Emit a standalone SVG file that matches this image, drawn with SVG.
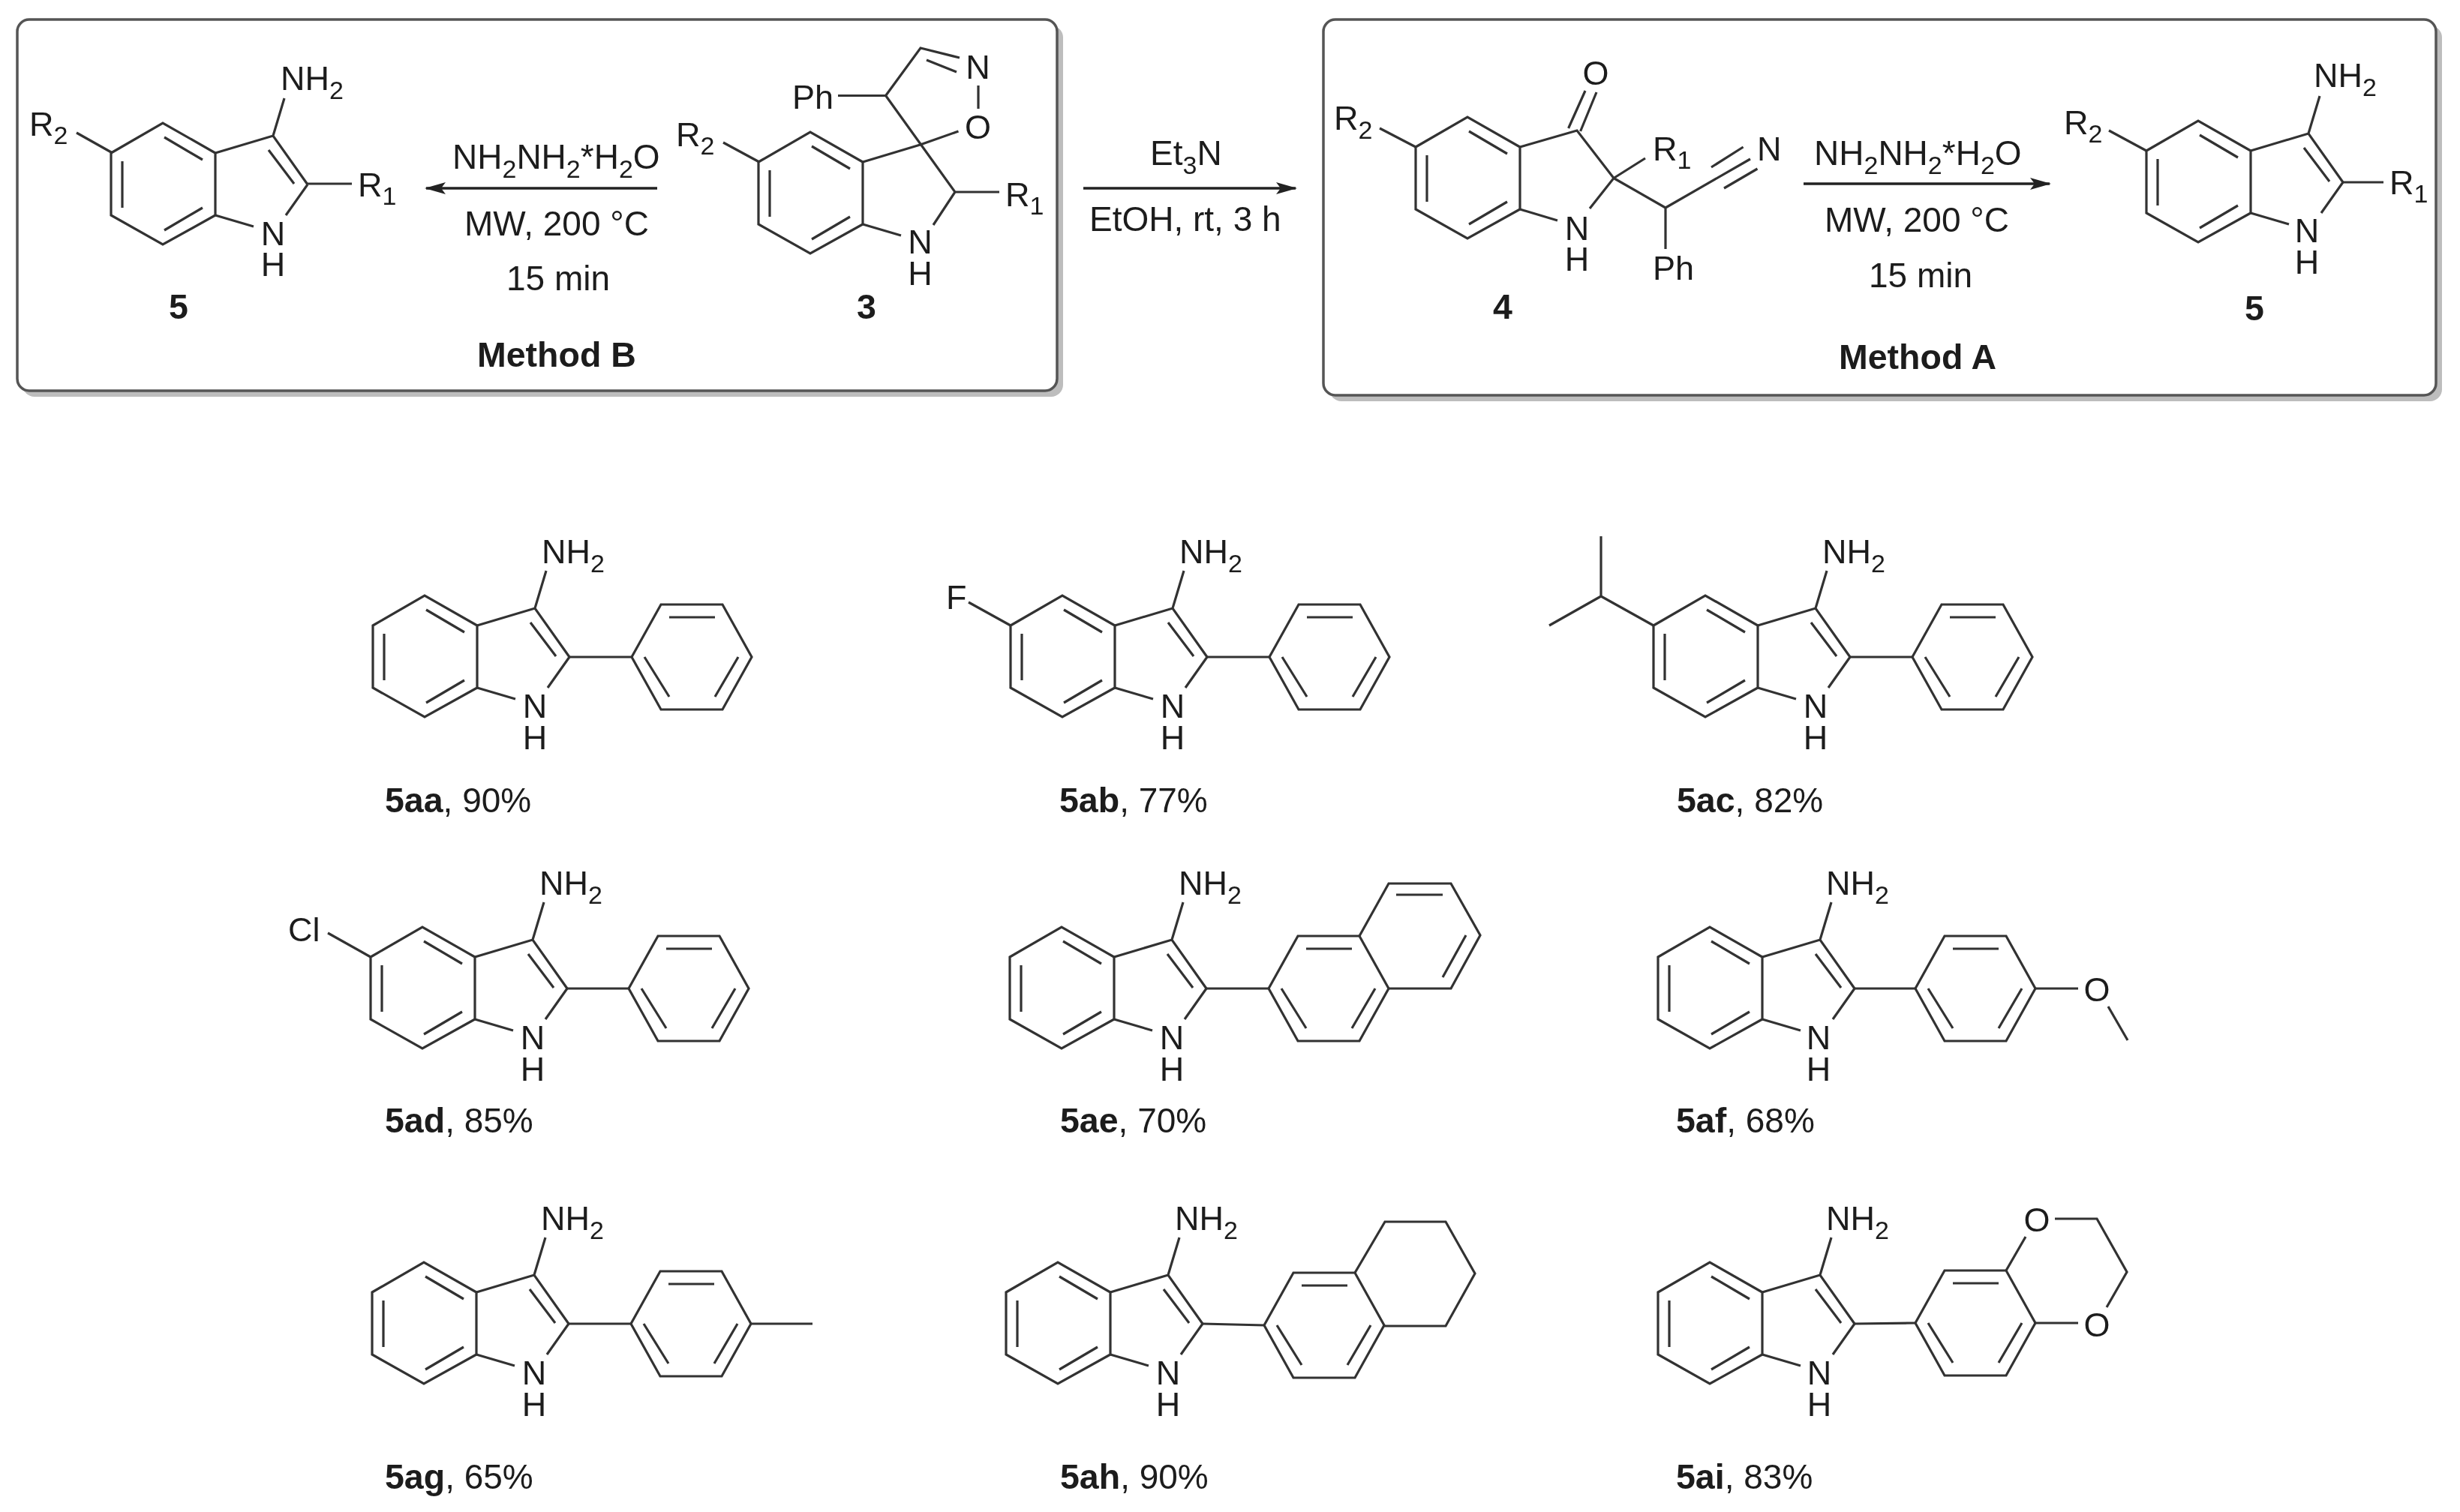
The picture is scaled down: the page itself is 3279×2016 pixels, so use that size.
<svg xmlns="http://www.w3.org/2000/svg" width="3279" height="2016" viewBox="0 0 3279 2016">
<style>
text{font-family:"Liberation Sans",Arial,sans-serif;font-size:45px;fill:#1c1c1c}
.s{font-size:34px}
.m{text-anchor:middle}
.r{font-size:46px}
.b{font-weight:bold;font-size:46.5px}
.c{font-size:46px}
.bd{fill:none;stroke:#333;stroke-width:3.2;stroke-linejoin:miter;stroke-linecap:butt}
.box{fill:#fff;stroke:#555;stroke-width:3.5}
.sh{fill:#bdbdbd}
.arr{stroke:#222;stroke-width:3.5;fill:none;marker-end:url(#head)}
</style>
<defs>
<filter id="soft" x="0" y="0" width="100%" height="100%" filterUnits="objectBoundingBox"><feGaussianBlur stdDeviation="0.7"/></filter>
<marker id="head" markerUnits="userSpaceOnUse" viewBox="-28 -9 32 18" refX="0" refY="0" markerWidth="32" markerHeight="18" orient="auto"><path d="M2 0L-26 -8L-20 0L-26 8Z" fill="#222"/></marker>
<path id="benzo" class="bd" d="M-139 0L-70 -40L0 0V83L-70 122L-139 83ZM-68 -21L-17 9M-124 11V73M-68 103L-17 73"/>
<path id="pyrrole" class="bd" d="M0 0L77 -23L123 42M71 -4L105 41M0 83L51 98M123 42L94 83M77 -23L92 -73"/>
<path id="ph" class="bd" d="M0 0L39 -70H121L160 0L121 70H39ZM50 -53H111M17 0L50 53M142 0L111 53"/>
</defs>
<g id="page" filter="url(#soft)">
<rect width="3279" height="2016" fill="#fff"/>

<g id="box-method-b"><rect class="sh" x="30" y="34" width="1387" height="495" rx="16"/><rect class="box" x="23" y="26" width="1386" height="495" rx="16"/></g>
<g id="box-method-a"><rect class="sh" x="1772" y="34" width="1483" height="501" rx="16"/><rect class="box" x="1764" y="26" width="1483" height="501" rx="16"/></g>

<g id="connectors">
<path class="arr" d="M876 251H568"/>
<path class="arr" d="M1444 251H1727"/>
<path class="arr" d="M2404 245H2732"/>
</g>

<g id="conditions">
<text class="r" x="603" y="225">NH<tspan class="s" dy="12">2</tspan><tspan dy="-12">NH</tspan><tspan class="s" dy="12">2</tspan><tspan dy="-12">*H</tspan><tspan class="s" dy="12">2</tspan><tspan dy="-12">O</tspan></text>
<text class="r" x="619" y="314">MW, 200 °C</text>
<text class="r" x="675" y="387">15 min</text>
<text class="b" x="636" y="489">Method B</text>
<text class="r" x="1533" y="220">Et<tspan class="s" dy="12">3</tspan><tspan dy="-12">N</tspan></text>
<text class="r" x="1452" y="308">EtOH, rt, 3 h</text>
<text class="r" x="2418" y="220">NH<tspan class="s" dy="12">2</tspan><tspan dy="-12">NH</tspan><tspan class="s" dy="12">2</tspan><tspan dy="-12">*H</tspan><tspan class="s" dy="12">2</tspan><tspan dy="-12">O</tspan></text>
<text class="r" x="2432" y="309">MW, 200 °C</text>
<text class="r" x="2491" y="383">15 min</text>
<text class="b" x="2451" y="492">Method A</text>
</g>

<g id="m5-left">
<use href="#benzo" x="287" y="204"/><use href="#pyrrole" x="287" y="204"/>
<path class="bd" d="M409 245H469M150 204L102 177"/>
<text x="374" y="120">NH<tspan class="s" dy="12">2</tspan></text>
<text class="m" x="364" y="327">N</text><text class="m" x="364" y="368">H</text>
<text x="477" y="262">R<tspan class="s" dy="11">1</tspan></text>
<text x="39" y="181">R<tspan class="s" dy="11">2</tspan></text>
<text class="b m" x="238" y="425">5</text>
</g>

<g id="m3">
<use href="#benzo" x="1150" y="216"/>
<path class="bd" d="M1150 216L1226.5 193M1180.6 127.5L1273 256L1244 300M1150 299L1201 314M1273 256H1332M1012 216L964 190M1226.5 193L1277.5 175M1304 145V114M1180.6 127.5L1227 64L1279 77M1235 80L1275 96M1117 127.5H1180.6"/>
<text class="m" x="1226.5" y="338">N</text><text class="m" x="1226.5" y="380">H</text>
<text x="1340" y="275">R<tspan class="s" dy="11">1</tspan></text>
<text x="901" y="195">R<tspan class="s" dy="11">2</tspan></text>
<text class="m" x="1303.5" y="185">O</text>
<text class="m" x="1303.5" y="105">N</text>
<text x="1056" y="145">Ph</text>
<text class="b m" x="1155" y="425">3</text>
</g>

<g id="m4">
<use href="#benzo" x="2026" y="196"/>
<path class="bd" d="M2026 196L2102 174L2151 237.5L2119 278M2026 279L2076 294M2151 237.5L2193 211M2151 237.5L2220 277V332M2220 277L2333 212M2281 223L2323.6 196M2298 251L2342.5 225M2090.6 171L2113 121M2106.6 175L2128 123M1887 196L1839 171"/>
<text class="m" x="2102" y="320">N</text><text class="m" x="2102" y="361">H</text>
<text class="m" x="2127" y="113">O</text>
<text x="2203" y="214">R<tspan class="s" dy="11">1</tspan></text>
<text x="2342" y="214">N</text>
<text x="2203" y="373">Ph</text>
<text x="1778" y="173">R<tspan class="s" dy="12">2</tspan></text>
<text class="b m" x="2003" y="425">4</text>
</g>

<g id="m5-right">
<use href="#benzo" x="3000" y="201"/><use href="#pyrrole" x="3000" y="201"/>
<path class="bd" d="M3123 243H3177M2861 201L2811 174"/>
<text x="3084" y="116">NH<tspan class="s" dy="12">2</tspan></text>
<text class="m" x="3075" y="323">N</text><text class="m" x="3075" y="365">H</text>
<text x="3185" y="259">R<tspan class="s" dy="11">1</tspan></text>
<text x="2751" y="179">R<tspan class="s" dy="11">2</tspan></text>
<text class="b m" x="3005" y="427">5</text>
</g>

<g id="m5aa" transform="translate(636 834)">
<use href="#benzo"/><use href="#pyrrole"/><use href="#ph" x="206" y="42"/>
<path class="bd" d="M123 42H206"/>
<text x="86" y="-83">NH<tspan class="s" dy="12">2</tspan></text>
<text class="m" x="77" y="123">N</text><text class="m" x="77" y="165">H</text>
<text class="c" x="-123" y="249"><tspan class="b">5aa</tspan>, 90%</text>
</g>

<g id="m5ab" transform="translate(1486 834)">
<use href="#benzo"/><use href="#pyrrole"/><use href="#ph" x="206" y="42"/>
<path class="bd" d="M123 42H206M-139 0L-195 -31"/>
<text x="86" y="-83">NH<tspan class="s" dy="12">2</tspan></text>
<text class="m" x="77" y="123">N</text><text class="m" x="77" y="165">H</text>
<text x="-225" y="-22">F</text>
<text class="c" x="-74" y="249"><tspan class="b">5ab</tspan>, 77%</text>
</g>

<g id="m5ac" transform="translate(2343 834)">
<use href="#benzo"/><use href="#pyrrole"/><use href="#ph" x="206" y="42"/>
<path class="bd" d="M123 42H206M-139 0L-209 -39V-119M-209 -39L-278 0"/>
<text x="86" y="-83">NH<tspan class="s" dy="12">2</tspan></text>
<text class="m" x="77" y="123">N</text><text class="m" x="77" y="165">H</text>
<text class="c" x="-108" y="249"><tspan class="b">5ac</tspan>, 82%</text>
</g>

<g id="m5ad" transform="translate(633 1276)">
<use href="#benzo"/><use href="#pyrrole"/><use href="#ph" x="205" y="42"/>
<path class="bd" d="M123 42H205M-139 0L-196 -32"/>
<text x="86" y="-83">NH<tspan class="s" dy="12">2</tspan></text>
<text class="m" x="77" y="123">N</text><text class="m" x="77" y="165">H</text>
<text x="-249" y="-21">Cl</text>
<text class="c" x="-120" y="234"><tspan class="b">5ad</tspan>, 85%</text>
</g>

<g id="m5ae" transform="translate(1485 1276)">
<use href="#benzo"/><use href="#pyrrole"/><use href="#ph" x="206" y="42"/>
<path class="bd" d="M123 42H206M327 -28L366 -98H449L488 -29L449 42H366M376 -83H438M469 -29L438 27"/>
<text x="86" y="-83">NH<tspan class="s" dy="12">2</tspan></text>
<text class="m" x="77" y="123">N</text><text class="m" x="77" y="165">H</text>
<text class="c" x="-72" y="234"><tspan class="b">5ae</tspan>, 70%</text>
</g>

<g id="m5af" transform="translate(2349 1276)">
<use href="#benzo"/><use href="#pyrrole"/><use href="#ph" x="204" y="42"/>
<path class="bd" d="M123 42H204M364 42H421M461 66L487 111"/>
<text x="85" y="-83">NH<tspan class="s" dy="12">2</tspan></text>
<text class="m" x="75" y="123">N</text><text class="m" x="75" y="165">H</text>
<text class="m" x="446" y="59">O</text>
<text class="c" x="-115" y="234"><tspan class="b">5af</tspan>, 68%</text>
</g>

<g id="m5ag" transform="translate(635 1723)">
<use href="#benzo"/><use href="#pyrrole"/><use href="#ph" x="206" y="42"/>
<path class="bd" d="M123 42H206M366 42H448"/>
<text x="86" y="-83">NH<tspan class="s" dy="12">2</tspan></text>
<text class="m" x="77" y="123">N</text><text class="m" x="77" y="165">H</text>
<text class="c" x="-122" y="262"><tspan class="b">5ag</tspan>, 65%</text>
</g>

<g id="m5ah" transform="translate(1480 1723)">
<use href="#benzo"/><use href="#pyrrole"/><use href="#ph" x="205" y="44"/>
<path class="bd" d="M123 42L205 44M326 -26L366 -94H447L486 -25L447 45H365"/>
<text x="86" y="-83">NH<tspan class="s" dy="12">2</tspan></text>
<text class="m" x="77" y="123">N</text><text class="m" x="77" y="165">H</text>
<text class="c" x="-67" y="262"><tspan class="b">5ah</tspan>, 90%</text>
</g>

<g id="m5ai" transform="translate(2349 1723)">
<use href="#benzo"/><use href="#pyrrole"/><use href="#ph" x="204" y="41"/>
<path class="bd" d="M123 42L204 41M325 -29L351 -74M390 -98H446L486 -27L459 20M364 41H421"/>
<text x="85" y="-83">NH<tspan class="s" dy="12">2</tspan></text>
<text class="m" x="76" y="123">N</text><text class="m" x="76" y="165">H</text>
<text class="m" x="366" y="-81">O</text>
<text class="m" x="446" y="59">O</text>
<text class="c" x="-115" y="262"><tspan class="b">5ai</tspan>, 83%</text>
</g>
</g>
</svg>
